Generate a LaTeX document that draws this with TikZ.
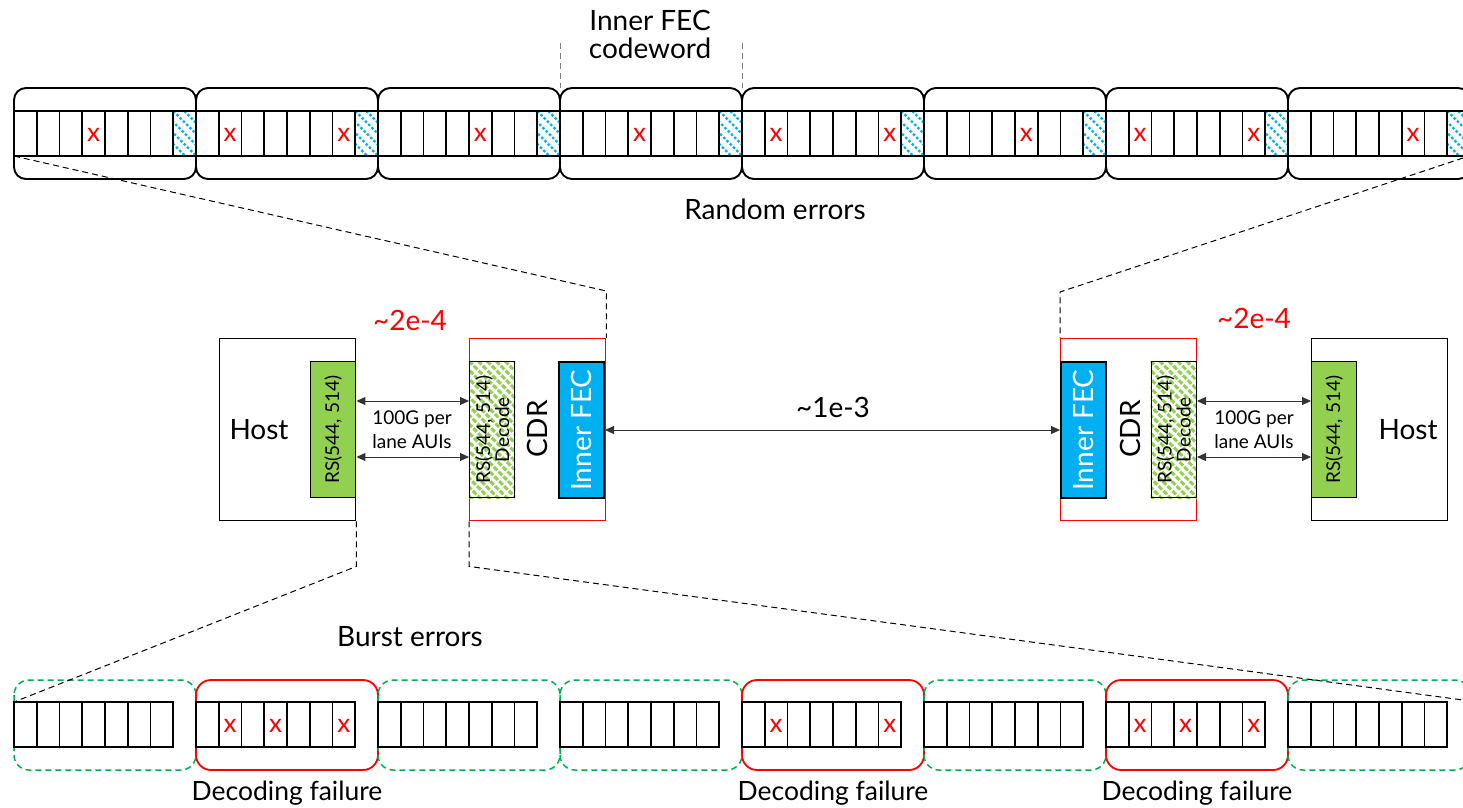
\documentclass[tikz,border=0pt]{standalone}
\usepackage{fontspec}
\setmainfont{Lato}
\usetikzlibrary{calc,arrows.meta}
\definecolor{rsgreen}{HTML}{92D050}
\definecolor{fecblue}{HTML}{00B0F0}
\definecolor{dgreen}{HTML}{00B050}
\definecolor{errred}{HTML}{FF0000}
\tikzset{
 cell/.style={draw=black, line width=1.9pt},
 cwbox/.style={draw=black, line width=1.9pt, rounded corners=12pt},
 okbox/.style={draw=dgreen, line width=1.5pt, dash pattern=on 6pt off 4pt, rounded corners=15pt},
 failbox/.style={draw=errred, line width=1.8pt, rounded corners=15pt},
 xmark/.style={text=errred, inner sep=0pt, font=\fontsize{26}{26}\selectfont},
 bigtext/.style={font=\fontsize{28}{28}\selectfont, align=center},
 failtext/.style={font=\fontsize{26.5}{28}\selectfont, align=center},
 smalltext/.style={font=\fontsize{19}{24}\selectfont, align=center},
 rstext/.style={font=\fontsize{19}{19}\selectfont, align=center, rotate=90},
 hostbox/.style={draw=black, fill=white, line width=1.4pt, minimum width=136pt, minimum height=182pt, inner sep=0pt},
 cdrbox/.style={draw=errred, line width=1.4pt, minimum width=136pt, minimum height=182pt, inner sep=0pt},
 rsbox/.style={draw=black, line width=1.4pt, fill=rsgreen, minimum width=45pt, minimum height=136pt, inner sep=0pt},
 decbox/.style={draw=black, line width=1.4pt, minimum width=45pt, minimum height=136pt, inner sep=0pt},
 fecbox/.style={draw=black, line width=2pt, fill=fecblue, minimum width=45pt, minimum height=136pt, inner sep=0pt},
 zoomline/.style={draw=black, line width=1pt, dash pattern=on 6pt off 4pt},
 guideline/.style={draw=gray, line width=1pt, dash pattern=on 6pt off 4pt},
 link/.style={draw=black!80, line width=1pt, {Triangle[length=9pt,width=8pt]}-{Triangle[length=9pt,width=8pt]}},
 bluehatch/.style={draw=fecblue, line width=2.2pt, dash pattern=on 2.6pt off 2pt},
 greenhatch/.style={draw=rsgreen, line width=3pt, dash pattern=on 5pt off 1.8pt},
}
\begin{document}
\begin{tikzpicture}[x=1pt,y=-1pt]
\clip (0,0) rectangle (1463,807);
\fill[white] (0,0) rectangle (1463,807);

% ---------- top row: inner FEC codewords ----------
\foreach \i in {0,...,7} {
  \pgfmathsetmacro{\xo}{14+182*\i}
  \draw[cwbox] (\xo,88) rectangle ++(182,91);
  \begin{scope}
    \clip (\xo+159.25,111) rectangle ++(22.75,45);
    \foreach \k in {-6,...,3} \draw[bluehatch] (\xo+159.25+\k*11,111) -- ++(50,50);
  \end{scope}
  \foreach \j in {0,...,7} \draw[cell] (\xo+\j*22.75,111) rectangle ++(22.75,45);
}
\foreach \b/\c in {0/3,1/1,1/6,2/4,3/3,4/1,4/6,5/4,6/1,6/6,7/5}
  \node[xmark] (tx-\b-\c) at (14+182*\b+22.75*\c+11.375,135) {x};

\coordinate (g1a) at (560,43); \coordinate (g1b) at (560,88);
\coordinate (g2a) at (742,43); \coordinate (g2b) at (742,88);
\draw[guideline] (g1a) -- (g1b);
\draw[guideline] (g2a) -- (g2b);
\node[bigtext] (cwlabel) at (650,34) {Inner FEC\\codeword};
\node[bigtext] (rand) at (775,209) {Random errors};

% ---------- bottom row: outer codewords ----------
\foreach \i/\st in {0/okbox,1/failbox,2/okbox,3/okbox,4/failbox,5/okbox,6/failbox,7/okbox} {
  \draw[\st] (14+182*\i,680) rectangle ++(182,90);
  \foreach \j in {0,...,6} \draw[cell] (14+182*\i+22.75*\j,702) rectangle ++(22.75,45);
}
\foreach \b/\c in {1/1,1/3,1/6,4/1,4/6,6/1,6/3,6/6}
  \node[xmark] (bx-\b-\c) at (14+182*\b+22.75*\c+11.375,726) {x};
\node[bigtext] (burst) at (410,637) {Burst errors};
\node[failtext] (df1) at (287,793) {Decoding failure};
\node[failtext] (df2) at (833,793) {Decoding failure};
\node[failtext] (df3) at (1197,793) {Decoding failure};

% ---------- middle: left side ----------
\node[hostbox, anchor=north west] (hostL) at (219,338) {};
\node[rsbox, anchor=north east] (rsL) at (hostL.north east |- 0,361) {};
\node[rstext] at (rsL) {RS(544, 514)};
\node[bigtext] (hostLt) at (259,430) {Host};
\node[cdrbox, anchor=north west] (cdrL) at (469,338) {};
\node[decbox, anchor=north west] (decL) at (469,361) {};
\begin{scope}
  \clip (decL.north west) rectangle (decL.south east);
  \foreach \k in {-17,...,6} \draw[greenhatch] ($(decL.north west)+(\k*9,0)$) -- ++(160,160);
\end{scope}
\node[decbox] at (decL) {};
\node[rstext] at (decL) {RS(544, 514)\\Decode};
\node[fecbox, anchor=north east] (fecL) at (605,361) {};
\node[bigtext, text=white, rotate=90] at (fecL) {Inner FEC};
\node[bigtext, rotate=90] (cdrLt) at (537,429) {CDR};
\draw[link] ($(rsL.north east)+(0,40)$) -- ($(decL.north west)+(0,40)$);
\draw[link] ($(rsL.north east)+(0,96)$) -- ($(decL.north west)+(0,96)$);
\node[smalltext] (auiL) at (412,430) {100G per\\lane AUIs};
\node[bigtext, text=errred] (berL) at (410,320) {\textasciitilde 2e-4};

% ---------- middle: right side ----------
\node[cdrbox, anchor=north west] (cdrR) at (1060,338) {};
\node[fecbox, anchor=north west] (fecR) at (1060,361) {};
\node[bigtext, text=white, rotate=90] at (fecR) {Inner FEC};
\node[decbox, anchor=north east] (decR) at (1197,361) {};
\begin{scope}
  \clip (decR.north west) rectangle (decR.south east);
  \foreach \k in {-17,...,6} \draw[greenhatch] ($(decR.north west)+(\k*9,0)$) -- ++(160,160);
\end{scope}
\node[decbox] at (decR) {};
\node[rstext] at (decR) {RS(544, 514)\\Decode};
\node[bigtext, rotate=90] (cdrRt) at (1130,429) {CDR};
\node[hostbox, anchor=north west] (hostR) at (1311,338) {};
\node[rsbox, anchor=north west] (rsR) at (1311,361) {};
\node[rstext] at (rsR) {RS(544, 514)};
\node[bigtext] (hostRt) at (1408,430) {Host};
\draw[link] ($(decR.north east)+(0,40)$) -- ($(rsR.north west)+(0,40)$);
\draw[link] ($(decR.north east)+(0,96)$) -- ($(rsR.north west)+(0,96)$);
\node[smalltext] (auiR) at (1254,430) {100G per\\lane AUIs};
\node[bigtext, text=errred] (berR) at (1254,318) {\textasciitilde 2e-4};

% ---------- line between inner FECs ----------
\draw[link] (fecL.east) -- (fecR.west);
\node[bigtext] (ber) at (833,407) {\textasciitilde 1e-3};

% ---------- zoom lines ----------
\coordinate (topL) at (14,156);
\coordinate (topR) at (1463,158);
\coordinate (botL) at (14,702);
\coordinate (botR) at (1463,700);
\draw[zoomline] (topL) -- ($(cdrL.north east)+(0,-47)$) -- (cdrL.north east);
\draw[zoomline] (topR) -- ($(cdrR.north west)+(0,-46)$) -- (cdrR.north west);
\draw[zoomline] (hostL.south east) -- ++(0,45) -- (botL);
\draw[zoomline] (cdrL.south west) -- ++(0,45) -- (botR);
\end{tikzpicture}
\end{document}
